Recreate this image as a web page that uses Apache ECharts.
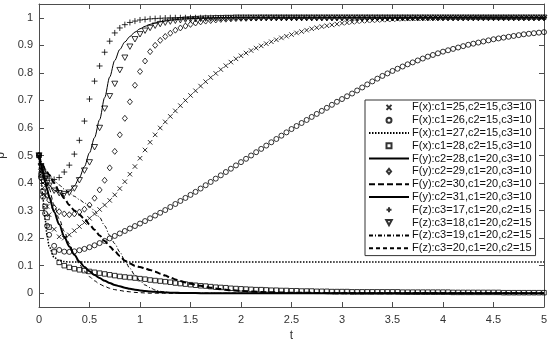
<!DOCTYPE html>
<html>
<head>
<meta charset="utf-8">
<script src="https://cdn.jsdelivr.net/npm/echarts@6/dist/echarts.min.js"></script>
<style>html,body{margin:0;padding:0;background:#fff}#c{width:550px;height:342px}</style>
</head>
<body>
<div id="c"></div>
<script>
// ---- time grids ----
const tMarker = [0,0.02,0.04,0.06,0.08,
  0.1,0.15,0.2,0.25,0.3,0.35,0.4,0.45,0.5,0.55,
  0.6,0.65,0.7,0.75,0.8,0.85,0.9,0.95,1.0,1.05,
  1.1,1.15,1.2,1.25,1.3,1.35,1.4,1.45,1.5,1.55,
  1.6,1.65,1.7,1.75,1.8,1.85,1.9,1.95,2.0,2.05,
  2.1,2.15,2.2,2.25,2.3,2.35,2.4,2.45,2.5,2.55,
  2.6,2.65,2.7,2.75,2.8,2.85,2.9,2.95,3.0,3.05,
  3.1,3.15,3.2,3.25,3.3,3.35,3.4,3.45,3.5,3.55,
  3.6,3.65,3.7,3.75,3.8,3.85,3.9,3.95,4.0,4.05,
  4.1,4.15,4.2,4.25,4.3,4.35,4.4,4.45,4.5,4.55,
  4.6,4.65,4.7,4.75,4.8,4.85,4.9,4.95,5.0];
const tLine = [0,0.02,0.04,0.06,0.08,
  0.1,0.15,0.2,0.25,0.3,0.35,0.4,0.45,0.5,0.55,
  0.6,0.65,0.7,0.75,0.8,0.85,0.9,0.95,1.0,1.05,
  1.1,1.15,1.2,1.25,1.3,1.35,1.4,1.45,1.5,
  1.6,1.7,1.8,1.9,2.0,2.25,2.5,3,3.5,4,4.5,5];

// ---- marker series (on tMarker) ----
// F(x):c1=25  (x markers)
const pX25 = [0.5,0.45,0.4,0.355,0.315,
  0.285,0.232,0.205,0.2,0.212,0.227,0.242,0.257,0.272,0.288,
  0.304,0.32,0.337,0.357,0.38,0.405,0.432,0.46,0.49,0.52,
  0.548,0.575,0.6,0.622,0.642,0.662,0.681,0.7,0.718,0.735,
  0.752,0.768,0.783,0.798,0.812,0.826,0.839,0.851,0.862,0.872,
  0.881,0.89,0.898,0.906,0.913,0.92,0.927,0.933,0.939,0.945,
  0.95,0.955,0.96,0.964,0.968,0.971,0.974,0.977,0.98,0.982,
  0.984,0.986,0.988,0.989,0.99,0.991,0.992,0.993,0.994,0.995,
  0.996,0.996,0.997,0.997,0.998,0.998,0.999,0.999,1,1,
  1,1,1,1,1,1,1,1,1,1,
  1,1,1,1,1,1,1,1,1];
// F(x):c1=26  (circles)
const pX26 = [0.5,0.42,0.35,0.29,0.245,
  0.212,0.172,0.157,0.151,0.15,0.152,0.156,0.161,0.167,0.174,
  0.182,0.19,0.199,0.208,0.217,0.226,0.235,0.244,0.253,0.262,
  0.272,0.282,0.292,0.302,0.313,0.324,0.335,0.346,0.357,0.368,
  0.38,0.392,0.404,0.416,0.428,0.44,0.452,0.464,0.476,0.488,
  0.5,0.512,0.524,0.536,0.548,0.56,0.572,0.584,0.596,0.607,
  0.618,0.629,0.64,0.651,0.662,0.673,0.684,0.695,0.705,0.715,
  0.725,0.736,0.747,0.758,0.769,0.779,0.789,0.798,0.807,0.815,
  0.823,0.831,0.838,0.845,0.852,0.859,0.865,0.871,0.877,0.882,
  0.887,0.892,0.897,0.902,0.906,0.91,0.914,0.918,0.922,0.925,
  0.928,0.931,0.934,0.937,0.94,0.942,0.944,0.946,0.948];
// F(x):c1=28  (squares)
const pX28 = [0.5,0.43,0.37,0.315,0.275,
  0.24,0.15,0.112,0.1,0.094,0.089,0.085,0.082,0.079,0.076,
  0.073,0.07,0.067,0.064,0.061,0.059,0.057,0.055,0.053,0.051,
  0.048,0.046,0.044,0.042,0.04,0.037,0.035,0.033,0.031,0.029,
  0.027,0.026,0.024,0.022,0.021,0.02,0.018,0.017,0.016,0.015,
  0.014,0.013,0.013,0.012,0.011,0.011,0.01,0.01,0.009,0.009,
  0.008,0.008,0.008,0.007,0.007,0.007,0.006,0.006,0.006,0.006,
  0.005,0.005,0.005,0.005,0.005,0.005,0.005,0.005,0.005,0.005,
  0.004,0.004,0.004,0.004,0.004,0.004,0.004,0.004,0.004,0.004,
  0.003,0.003,0.003,0.003,0.003,0.003,0.003,0.003,0.003,0.003,
  0.002,0.002,0.002,0.002,0.002,0.002,0.002,0.002,0.002];
// F(y):c2=29  (diamonds)
const pY29 = [0.5,0.45,0.41,0.38,0.355,
  0.338,0.31,0.296,0.288,0.285,0.288,0.295,0.305,0.32,0.345,
  0.375,0.41,0.455,0.515,0.575,0.635,0.695,0.755,0.805,0.843,
  0.877,0.9,0.918,0.932,0.944,0.955,0.963,0.97,0.976,0.981,
  0.985,0.988,0.99,0.992,0.994,0.995,0.996,0.997,0.998,0.998,
  0.999,0.999,1,1,1,1,1,1,1,1,
  1,1,1,1,1,1,1,1,1,1,
  1,1,1,1,1,1,1,1,1,1,
  1,1,1,1,1,1,1,1,1,1,
  1,1,1,1,1,1,1,1,1,1,
  1,1,1,1,1,1,1,1,1];
// F(z):c3=17  (plus)
const pZ17 = [0.5,0.47,0.45,0.435,0.425,
  0.418,0.413,0.42,0.44,0.465,0.505,0.555,0.625,0.705,0.77,
  0.825,0.875,0.915,0.945,0.963,0.975,0.983,0.988,0.992,0.994,
  0.996,0.997,0.998,0.999,1,1,1,1,1,1,
  1,1,1,1,1,1,1,1,1,1,
  1,1,1,1,1,1,1,1,1,1,
  1,1,1,1,1,1,1,1,1,1,
  1,1,1,1,1,1,1,1,1,1,
  1,1,1,1,1,1,1,1,1,1,
  1,1,1,1,1,1,1,1,1,1,
  1,1,1,1,1,1,1,1,1];
// F(z):c3=18  (down triangles)
const pZ18 = [0.5,0.46,0.435,0.415,0.4,
  0.39,0.372,0.363,0.36,0.365,0.38,0.41,0.445,0.475,0.53,
  0.6,0.67,0.715,0.76,0.81,0.855,0.895,0.922,0.94,0.953,
  0.963,0.971,0.977,0.982,0.986,0.989,0.991,0.993,0.994,0.995,
  0.996,0.997,0.997,0.998,0.998,0.999,0.999,1,1,1,
  1,1,1,1,1,1,1,1,1,1,
  1,1,1,1,1,1,1,1,1,1,
  1,1,1,1,1,1,1,1,1,1,
  1,1,1,1,1,1,1,1,1,1,
  1,1,1,1,1,1,1,1,1,1,
  1,1,1,1,1,1,1,1,1];

// ---- line series (on tLine) ----
// F(x):c1=27 dotted
const pX27 = [0.5,0.42,0.34,0.27,0.21,
  0.17,0.13,0.118,0.115,0.113,0.113,0.113,0.113,0.113,0.113,
  0.113,0.113,0.113,0.113,0.113,0.113,0.113,0.113,0.113,0.113,
  0.113,0.113,0.113,0.113,0.113,0.113,0.113,0.113,0.113,
  0.113,0.113,0.113,0.113,0.113,0.113,0.113,0.113,0.113,0.113,0.113,0.113];
// F(y):c2=28 thin solid
const pY28 = [0.5,0.465,0.44,0.42,0.405,
  0.393,0.374,0.364,0.362,0.37,0.39,0.42,0.46,0.51,0.565,
  0.63,0.71,0.785,0.845,0.885,0.912,0.932,0.948,0.96,0.969,
  0.976,0.981,0.985,0.988,0.991,0.993,0.995,0.996,0.997,
  0.998,0.999,1,1,1,1,1,1,1,1,1,1];
// F(y):c2=30 thick dashed
const pY30 = [0.5,0.48,0.465,0.45,0.44,
  0.43,0.4,0.37,0.345,0.32,0.3,0.285,0.27,0.25,0.23,
  0.21,0.19,0.17,0.152,0.135,0.118,0.108,0.1,0.095,0.09,
  0.084,0.078,0.071,0.064,0.057,0.05,0.044,0.039,0.034,
  0.027,0.02,0.015,0.011,0.008,0.004,0.002,0,0,0,0,0];
// F(y):c2=31 thick solid
const pY31 = [0.5,0.465,0.435,0.405,0.378,
  0.35,0.295,0.25,0.205,0.17,0.14,0.115,0.095,0.08,0.066,
  0.055,0.045,0.037,0.03,0.025,0.02,0.016,0.013,0.01,0.008,
  0.006,0.005,0.004,0.003,0.002,0.002,0.001,0.001,0.001,
  0,0,0,0,0,0,0,0,0,0,0,0];
// F(z):c3=19 dash-dot
const pZ19 = [0.5,0.48,0.465,0.452,0.44,
  0.43,0.41,0.393,0.378,0.365,0.352,0.34,0.328,0.315,0.3,
  0.275,0.245,0.21,0.18,0.15,0.118,0.09,0.065,0.045,0.03,
  0.02,0.012,0.007,0.004,0.002,0.001,0,0,0,
  0,0,0,0,0,0,0,0,0,0,0,0];
// F(z):c3=20 thin dashed
const pZ20 = [0.5,0.47,0.445,0.42,0.4,
  0.38,0.32,0.27,0.225,0.18,0.14,0.105,0.08,0.06,0.045,
  0.033,0.025,0.018,0.013,0.01,0.007,0.005,0.003,0.002,0.001,
  0,0,0,0,0,0,0,0,0,
  0,0,0,0,0,0,0,0,0,0,0,0];

const yTicks = [0,0.1,0.2,0.3,0.4,0.5,0.6,0.7,0.8,0.9,1];

function pairs(ts, ps){ return ts.map((t,i)=>[t,ps[i]]); }

const FONT = 'Liberation Sans, Arial, sans-serif';
const AX = '#4d4d4d';
const markerStyle = {color:'none', borderColor:'#000', borderWidth:1};

function scatter(name, ps, symbol, size){
  return {name, type:'scatter', data:pairs(tMarker, ps), symbol, symbolSize:size, symbolKeepAspect:true,
    itemStyle:markerStyle, emphasis:{disabled:true}, silent:true};
}
function line(name, ps, width, type){
  return {name, type:'line', data:pairs(tLine, ps), symbol:'none', smooth:0.3, smoothMonotone:'x',
    lineStyle:{color:'#000', width, type}, itemStyle:{color:'none', borderWidth:0, opacity:0},
    emphasis:{disabled:true}, silent:true};
}

const SYM_X = 'path://M0,0L10,10M10,0L0,10';
const SYM_PLUS = 'path://M5,0L5,10M0,5L10,5';
const SYM_TRI = 'path://M0,0L10,0L5,9Z';
const SYM_SQ = 'path://M0,0L10,0L10,10L0,10Z';
const SYM_DIA = 'path://M5,0L10,6L5,12L0,6Z';

const series = [
  scatter('F(x):c1=25,c2=15,c3=10', pX25, SYM_X, 4.5),
  scatter('F(x):c1=26,c2=15,c3=10', pX26, 'circle', 5),
  line('F(x):c1=27,c2=15,c3=10', pX27, 1.5, [1.5,1.5]),
  scatter('F(x):c1=28,c2=15,c3=10', pX28, SYM_SQ, 4.5),
  line('F(y):c2=28,c1=20,c3=10', pY28, 1, 'solid'),
  scatter('F(y):c2=29,c1=20,c3=10', pY29, SYM_DIA, 6),
  line('F(y):c2=30,c1=20,c3=10', pY30, 2, [6,3]),
  line('F(y):c2=31,c1=20,c3=10', pY31, 2, 'solid'),
  scatter('F(z):c3=17,c1=20,c2=15', pZ17, SYM_PLUS, 6),
  scatter('F(z):c3=18,c1=20,c2=15', pZ18, SYM_TRI, 6),
  line('F(z):c3=19,c1=20,c2=15', pZ19, 1, [4,2,1,2]),
  line('F(z):c3=20,c1=20,c2=15', pZ20, 1, [4,3])
];

const chart = echarts.init(document.getElementById('c'), null, {renderer:'canvas'});
chart.setOption({
  animation:false,
  backgroundColor:'#fff',
  grid:{left:39, right:6, top:4, bottom:35, containLabel:false, outerBoundsMode:'none'},
  legend:{
    orient:'vertical', left:365, top:100,
    itemWidth:40, itemHeight:5, itemGap:0,
    padding:[1,4,1,3],
    backgroundColor:'#fff', borderColor:'#333', borderWidth:1,
    selectedMode:false, symbolKeepAspect:true,
    textStyle:{fontFamily:FONT, fontSize:11, color:'#111', lineHeight:12.8, padding:[0,0,0,-2]},
    data:series.map(s=>s.name)
  },
  xAxis:[{
    type:'value', min:0, max:5, interval:0.5, position:'bottom',
    axisLine:{onZero:false, lineStyle:{color:AX}},
    axisTick:{inside:true, length:5, lineStyle:{color:AX}},
    axisLabel:{margin:7, color:'#333', fontSize:11, fontFamily:FONT},
    splitLine:{show:false},
    name:'t', nameLocation:'middle', nameGap:21,
    nameTextStyle:{color:'#333', fontSize:12, fontFamily:FONT}
  },{
    type:'value', min:0, max:5, interval:0.5, position:'top',
    axisLine:{onZero:false, lineStyle:{color:AX}},
    axisTick:{inside:true, length:5, lineStyle:{color:AX}},
    axisLabel:{show:false}, splitLine:{show:false}
  }],
  yAxis:[{
    type:'value', min:-0.05, max:1.05, position:'left',
    axisLine:{onZero:false, lineStyle:{color:AX}},
    axisTick:{inside:true, length:5, customValues:yTicks, lineStyle:{color:AX}},
    axisLabel:{customValues:yTicks, margin:6, color:'#333', fontSize:11, fontFamily:FONT},
    splitLine:{show:false},
    name:'p', nameLocation:'middle', nameGap:21, nameRotate:90,
    nameTextStyle:{color:'#333', fontSize:12, fontFamily:FONT}
  },{
    type:'value', min:-0.05, max:1.05, position:'right',
    axisLine:{onZero:false, lineStyle:{color:AX}},
    axisTick:{inside:true, length:5, customValues:yTicks, lineStyle:{color:AX}},
    axisLabel:{show:false}, splitLine:{show:false}
  }],
  series
});
</script>
</body>
</html>
